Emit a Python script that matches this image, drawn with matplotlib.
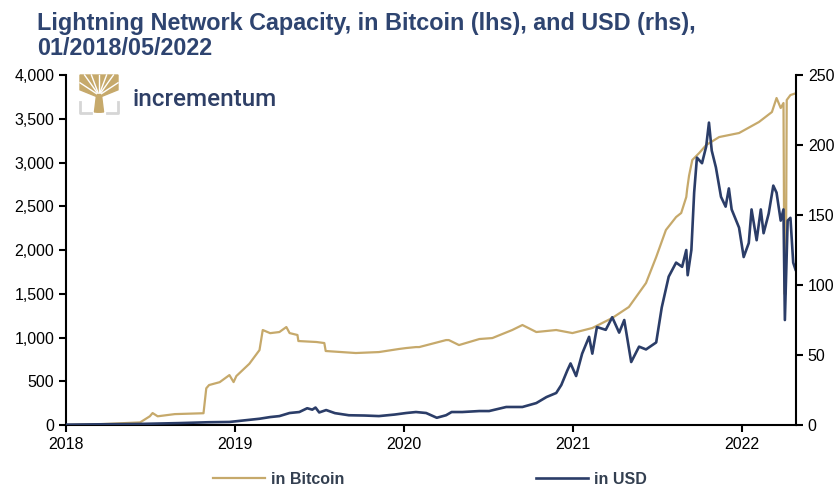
import numpy as np
import pandas as pd
import matplotlib
matplotlib.use("Agg")
import matplotlib.pyplot as plt
import matplotlib.dates as mdates
from matplotlib.ticker import FuncFormatter, MultipleLocator
from matplotlib.lines import Line2D
from matplotlib.patches import Polygon

plt.rcParams['font.family'] = ['Liberation Sans', 'DejaVu Sans']

# capacity in bitcoin (lhs)
btc_dates = ['2018-01-01', '2018-03-15', '2018-06-10', '2018-07-01', '2018-07-07', '2018-07-18',
             '2018-08-24', '2018-10-25', '2018-10-31', '2018-11-06', '2018-11-29', '2018-12-20',
             '2018-12-29', '2019-01-04', '2019-02-01', '2019-02-23', '2019-03-02', '2019-03-18',
             '2019-04-07', '2019-04-22', '2019-04-29', '2019-05-16', '2019-05-18', '2019-06-26',
             '2019-07-13', '2019-07-16', '2019-09-19', '2019-11-08', '2019-12-21', '2020-01-06',
             '2020-01-27', '2020-02-03', '2020-04-01', '2020-04-07', '2020-04-29', '2020-06-12',
             '2020-07-10', '2020-08-22', '2020-09-13', '2020-10-13', '2020-11-25', '2020-12-30',
             '2021-02-11', '2021-03-26', '2021-05-01', '2021-06-07', '2021-06-29', '2021-07-20',
             '2021-08-11', '2021-08-22', '2021-09-02', '2021-09-04', '2021-09-08', '2021-09-15',
             '2021-09-30', '2021-10-15', '2021-11-12', '2021-12-25', '2022-02-06', '2022-03-06',
             '2022-03-16', '2022-03-25', '2022-03-31', '2022-04-02', '2022-04-05', '2022-04-07',
             '2022-04-15', '2022-04-26']
btc_values = [0, 10, 30, 100, 137, 100,
              125, 135, 420, 457, 490, 571,
              491, 560, 700, 857, 1086, 1050,
              1063, 1120, 1051, 1029, 960, 949,
              937, 846, 823, 834, 869, 880,
              891, 891, 971, 971, 914, 983,
              994, 1086, 1143, 1063, 1086, 1051,
              1109, 1223, 1349, 1623, 1920, 2229,
              2377, 2423, 2606, 2700, 2850, 3029,
              3109, 3200, 3291, 3337, 3463, 3577,
              3737, 3623, 3680, 1500, 1500, 3714,
              3771, 3790]

# capacity in USD millions (rhs)
usd_dates = ['2018-01-01', '2018-06-10', '2018-09-03', '2018-11-04', '2018-12-20', '2019-02-23',
             '2019-03-18', '2019-04-07', '2019-04-29', '2019-05-20', '2019-06-06', '2019-06-17',
             '2019-06-24', '2019-07-02', '2019-07-17', '2019-08-05', '2019-09-04', '2019-10-08',
             '2019-11-08', '2019-12-12', '2020-01-06', '2020-01-27', '2020-02-18', '2020-03-12',
             '2020-04-01', '2020-04-13', '2020-05-06', '2020-06-12', '2020-07-03', '2020-08-09',
             '2020-09-13', '2020-10-13', '2020-11-04', '2020-11-25', '2020-12-06', '2020-12-19',
             '2020-12-26', '2021-01-07', '2021-01-20', '2021-02-04', '2021-02-11', '2021-02-21',
             '2021-03-12', '2021-03-26', '2021-04-10', '2021-04-21', '2021-05-06', '2021-05-23',
             '2021-06-07', '2021-06-29', '2021-07-11', '2021-07-26', '2021-08-11', '2021-08-24',
             '2021-09-02', '2021-09-05', '2021-09-13', '2021-09-19', '2021-09-25', '2021-10-06',
             '2021-10-15', '2021-10-21', '2021-10-27', '2021-11-05', '2021-11-16', '2021-11-26',
             '2021-12-03', '2021-12-09', '2021-12-25', '2022-01-04', '2022-01-15', '2022-01-21',
             '2022-02-01', '2022-02-10', '2022-02-16', '2022-02-27', '2022-03-09', '2022-03-16',
             '2022-03-25', '2022-03-31', '2022-04-03', '2022-04-09', '2022-04-15', '2022-04-21',
             '2022-04-26']
usd_values = [0.3, 0.8, 1.4, 2, 2.2, 4.5,
              5.7, 6.4, 8.6, 9.3, 12, 11,
              12.5, 9, 10.7, 8.5, 7, 6.8,
              6.4, 7.5, 8.6, 9.3, 8.6, 5.2,
              7, 9.3, 9.3, 10, 10, 12.9,
              12.9, 15.7, 20, 22.9, 28.6, 39,
              44, 35, 51, 63, 51, 70,
              68, 77, 66, 75, 45, 56,
              54, 59, 84, 106, 116, 113,
              125, 107, 125, 166, 191, 187,
              199, 216, 196, 184, 163, 156,
              169, 154, 141, 120, 130, 154,
              132, 154, 137, 151, 171, 166,
              146, 154, 75, 146, 148, 116,
              111]

gold = '#c6a96b'
navy = '#2b3d68'

fig = plt.figure(figsize=(8.4, 4.88), dpi=100)
ax = fig.add_axes([0.0786, 0.129, 0.8690, 0.7173])
ax2 = ax.twinx()

ax.plot(pd.to_datetime(btc_dates), btc_values, color=gold, lw=1.6, label='in Bitcoin')
ax2.plot(pd.to_datetime(usd_dates), usd_values, color=navy, lw=1.9, label='in USD')

ax.set_xlim(pd.Timestamp('2018-01-01'), pd.Timestamp('2022-04-27'))
ax.set_ylim(0, 4000)
ax2.set_ylim(0, 250)
ax.yaxis.set_major_locator(MultipleLocator(500))
ax.yaxis.set_major_formatter(FuncFormatter(lambda v, p: f'{int(v):,}'))
ax2.yaxis.set_major_locator(MultipleLocator(50))
ax.xaxis.set_major_locator(mdates.YearLocator())
ax.xaxis.set_major_formatter(mdates.DateFormatter('%Y'))

for a in (ax, ax2):
    a.spines['top'].set_visible(False)
    for s in ('left', 'right', 'bottom'):
        a.spines[s].set_linewidth(1.5)
    a.tick_params(direction='out', length=5, width=1.5, labelsize=11.5, colors='black')
ax.spines['right'].set_visible(False)
ax2.spines['left'].set_visible(False)
ax2.spines['bottom'].set_visible(False)

fig.text(37 / 840, 1 - 12 / 488, 'Lightning Network Capacity, in Bitcoin (lhs), and USD (rhs),\n01/2018/05/2022',
         fontsize=16.8, fontweight='bold', color='#2e4470', va='top', linespacing=1.12)

# logo (tree icon + wordmark)
lx, ly = 80 / 840, 1 - 114 / 488
w, h = 38 / 840, 39 / 488
def P(fx, fy):
    return [lx + w * fx, ly + h * fy]
fig.patches.append(Polygon([P(0.38, 0.05), P(0.62, 0.05), P(0.57, 0.45), P(1.0, 0.62), P(1.0, 1.0),
                            P(0.0, 1.0), P(0.0, 0.62), P(0.43, 0.45)],
                           transform=fig.transFigure, color=gold, zorder=5))
for fx, fy in [(0.0, 0.8), (0.12, 1.0), (0.3, 1.0), (0.5, 1.0), (0.7, 1.0), (0.88, 1.0), (1.0, 0.8)]:
    fig.add_artist(Line2D([lx + w * 0.5, lx + w * fx], [ly + h * 0.48, ly + h * fy],
                          transform=fig.transFigure, color='white', lw=1.0, zorder=6))
fig.patches.append(Polygon([P(0.44, 0.05), P(0.56, 0.05), P(0.54, 0.5), P(0.46, 0.5)],
                           transform=fig.transFigure, color=gold, zorder=7))
for xs in ([lx, lx, lx + w * 0.28], [lx + w, lx + w, lx + w * 0.72]):
    fig.add_artist(Line2D(xs, [ly + h * 0.3, ly + h * 0.03, ly + h * 0.03],
                          transform=fig.transFigure, color='#d6d6d6', lw=2, zorder=4))
fig.text(133 / 840, 1 - 106 / 488, 'incrementum', fontsize=17.5, color='#2e3f66',
         va='baseline', ha='left', family=['Roboto', 'Liberation Sans'], fontweight='medium')

fig.legend(handles=[ax.lines[0], ax2.lines[0]], loc='center', bbox_to_anchor=(0.512, 0.018),
           ncol=2, frameon=False, handlelength=3.25, handletextpad=0.4, columnspacing=12,
           prop={'size': 11.5, 'weight': 'bold'}, labelcolor='#333f50')

fig.savefig('out.png', dpi=100)
